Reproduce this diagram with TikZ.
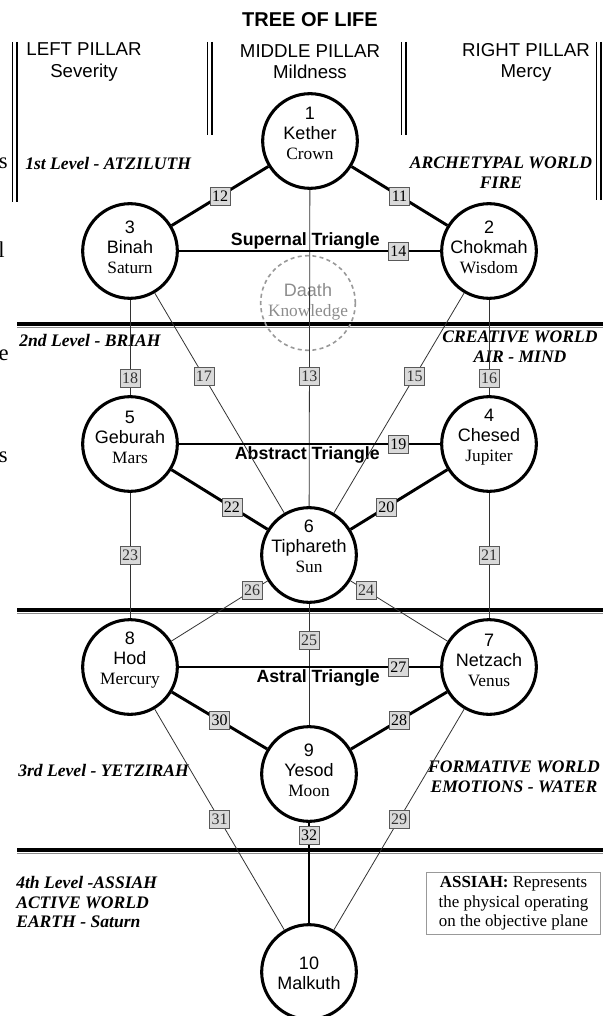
\documentclass[tikz,border=0pt]{standalone}
\usepackage{fontspec}
\setmainfont{Liberation Serif}
\setsansfont{Liberation Sans}
\begin{document}
\begin{tikzpicture}[x=0.75pt,y=-0.75pt,
	sephira/.style={circle,draw,line width=2.3pt,minimum size=71pt,inner sep=0pt},
	sephtext/.style={align=center,inner sep=0pt,font=\sffamily\fontsize{13.5}{15}\selectfont},
	pathno/.style={draw=black!65,fill=black!15,line width=0.6pt,inner sep=0.5pt,minimum width=15pt,minimum height=13.5pt,font=\rmfamily\fontsize{12}{12}\selectfont},
	heavy/.style={line width=2.2pt},
	fine/.style={line width=0.6pt,black!80},
	level/.style={inner sep=0pt,font=\rmfamily\bfseries\itshape\fontsize{13.2}{14.8}\selectfont},
	tri/.style={inner sep=0pt,font=\sffamily\bfseries\fontsize{13.3}{13.3}\selectfont},
	pillar/.style={align=center,inner sep=0pt,font=\sffamily\fontsize{14}{15.8}\selectfont}]
	\useasboundingbox (0,0) rectangle (608,1016);
	\node[font=\sffamily\bfseries\fontsize{15}{15}\selectfont] (title) at (310,20) {TREE OF LIFE};
	\node[pillar] (leftp) at (84,62) {LEFT PILLAR\\Severity};
	\node[pillar] (midp) at (310,62) {MIDDLE PILLAR\\Mildness};
	\node[pillar] (rightp) at (526,62) {RIGHT PILLAR\\Mercy};
	\foreach \x/\b in {15/202,210/135,404/135,599/200} {
		\draw[line width=1pt] (\x-2.5,42) -- (\x-2.5,\b);
		\draw[line width=1.5pt] (\x+2,42) -- (\x+2,\b);
	}
	\foreach \y in {324,610,850} {
		\draw[line width=2.3pt] (17,\y) -- (603,\y);
		\draw[line width=0.8pt,black!45] (17,\y+3.5) -- (603,\y+3.5);
	}
	\foreach \y/\c/\x in {163/s/8,250/l/5,355/e/9,457/s/8}
		\node[anchor=east,inner sep=0pt,font=\rmfamily\fontsize{17}{17}\selectfont] at (\x,\y) {\c};
	\node[level,anchor=west] (lev1) at (25,163) {1st Level - ATZILUTH};
	\node[level,align=center] (world1) at (501,173) {ARCHETYPAL WORLD\\FIRE};
	\node[level,anchor=west] (lev2) at (19,340) {2nd Level - BRIAH};
	\node[level,align=center] (world2) at (520,347) {CREATIVE WORLD\\AIR - MIND};
	\node[level,anchor=west] (lev3) at (18,770) {3rd Level - YETZIRAH};
	\node[level,align=center] (world3) at (514,777) {FORMATIVE WORLD\\EMOTIONS - WATER};
	\node[level,anchor=west,align=left] (lev4) at (16,902) {4th Level -ASSIAH\\ACTIVE WORLD\\EARTH - Saturn};
	\node[draw=black!40,line width=0.6pt,align=center,inner sep=0pt,minimum width=131pt,minimum height=47pt,
		font=\rmfamily\fontsize{12.7}{14.6}\selectfont] (assiah) at (513.5,903.5)
		{\textbf{ASSIAH:} Represents\\the physical operating\\on the objective plane};
	\node[tri,anchor=east] (supernal) at (380,241) {Supernal Triangle};
	\node[tri,anchor=east] (abstract) at (380,455) {Abstract Triangle};
	\node[tri,anchor=east] (astral) at (380,678) {Astral Triangle};
	\node[sephira] (kether) at (310,141) {};
	\node[sephira] (binah) at (130,251) {};
	\node[sephira] (chokmah) at (489,251) {};
	\node[circle,draw=black!40,dash pattern=on 3pt off 2.5pt,line width=1.2pt,minimum size=71pt] (daath) at (308,303) {};
	\node[sephira] (geburah) at (130,444) {};
	\node[sephira] (chesed) at (489,444) {};
	\node[sephira] (tiphareth) at (309,555) {};
	\node[sephira] (hod) at (130,667) {};
	\node[sephira] (netzach) at (489,667) {};
	\node[sephira] (yesod) at (309,774) {};
	\node[sephira] (malkuth) at (309,972) {};
	\node[sephtext] at (310,133) {1\\Kether\\{\rmfamily\fontsize{13}{15}\selectfont Crown}};
	\node[sephtext] at (130,247) {3\\Binah\\{\rmfamily\fontsize{13}{15}\selectfont Saturn}};
	\node[sephtext] at (489,247) {2\\Chokmah\\{\rmfamily\fontsize{13}{15}\selectfont Wisdom}};
	\node[sephtext,text=black!45] at (308,302) {Daath\\{\rmfamily\fontsize{13}{15}\selectfont Knowledge}};
	\node[sephtext] at (130,437) {5\\Geburah\\{\rmfamily\fontsize{13}{15}\selectfont Mars}};
	\node[sephtext] at (489,437) {4\\Chesed\\{\rmfamily\fontsize{13}{15}\selectfont Jupiter}};
	\node[sephtext] at (309,546) {6\\Tiphareth\\{\rmfamily\fontsize{13}{15}\selectfont Sun}};
	\node[sephtext] at (130,660) {8\\Hod\\{\rmfamily\fontsize{13}{15}\selectfont Mercury}};
	\node[sephtext] at (489,660) {7\\Netzach\\{\rmfamily\fontsize{13}{15}\selectfont Venus}};
	\node[sephtext] at (309,770) {9\\Yesod\\{\rmfamily\fontsize{13}{15}\selectfont Moon}};
	\node[sephtext] at (309,973) {10\\Malkuth};
	\draw[fine] (kether) -- node[pathno,pos=0.59] {13} (tiphareth);
	\draw[fine] (binah) -- node[pathno,pos=0.82] {18} (geburah);
	\draw[fine] (binah) -- node[pathno,pos=0.38] {17} (tiphareth);
	\draw[fine] (chokmah) -- node[pathno,pos=0.38] {15} (tiphareth);
	\draw[fine] (chokmah) -- node[pathno,pos=0.82] {16} (chesed);
	\draw[fine] (geburah) -- node[pathno] {23} (hod);
	\draw[fine] (chesed) -- node[pathno] {21} (netzach);
	\draw[fine] (tiphareth) -- node[pathno,pos=0.16] {26} (hod);
	\draw[fine] (tiphareth) -- node[pathno,pos=0.16] {24} (netzach);
	\draw[fine] (tiphareth) -- node[pathno,pos=0.3] {25} (yesod);
	\draw[fine] (hod) -- node[pathno] {31} (malkuth);
	\draw[fine] (netzach) -- node[pathno] {29} (malkuth);
	\draw[heavy] (kether) -- node[pathno] {12} (binah);
	\draw[heavy] (kether) -- node[pathno] {11} (chokmah);
	\draw[heavy] (binah) -- node[pathno,pos=0.84] {14} (chokmah);
	\draw[heavy] (geburah) -- node[pathno,pos=0.84] {19} (chesed);
	\draw[heavy] (geburah) -- node[pathno,pos=0.63] {22} (tiphareth);
	\draw[heavy] (chesed) -- node[pathno,pos=0.63] {20} (tiphareth);
	\draw[heavy] (hod) -- node[pathno,pos=0.84] {27} (netzach);
	\draw[heavy] (hod) -- node[pathno] {30} (yesod);
	\draw[heavy] (netzach) -- node[pathno] {28} (yesod);
	\draw[heavy] (yesod) -- node[pathno,pos=0.12] {32} (malkuth);
\end{tikzpicture}
\end{document}
